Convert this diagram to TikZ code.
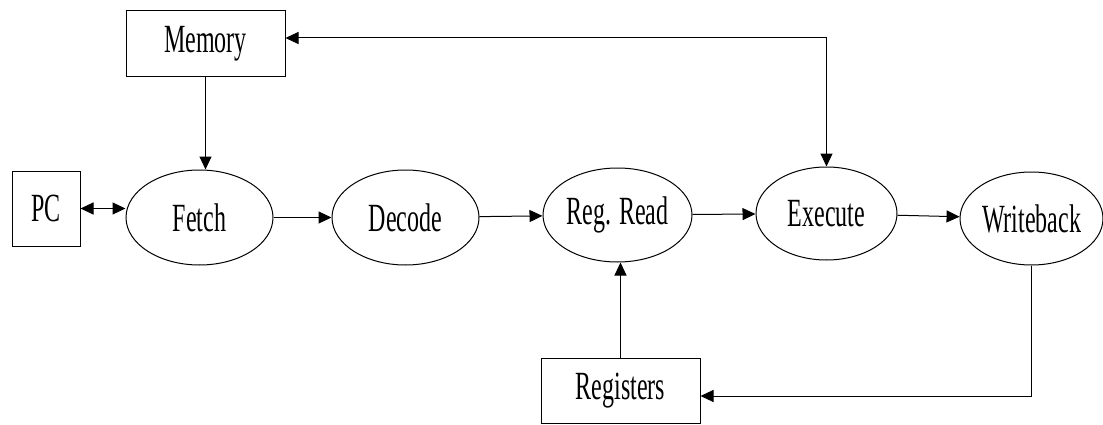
\documentclass[tikz,border=0pt]{standalone}
\usepackage{fontspec}
\setmainfont[FakeStretch=0.6]{Liberation Serif}
\usetikzlibrary{shapes.geometric,arrows.meta}
\begin{document}
\begin{tikzpicture}[x=1pt,y=1pt,
  every node/.style={font=\fontsize{40}{41}\selectfont, inner sep=0pt},
  boxnode/.style={draw, line width=1pt, rectangle},
  stage/.style={draw, line width=1pt, ellipse},
  conn/.style={line width=1pt, -{Triangle[length=13pt,width=12pt]}},
  biconn/.style={line width=1pt, {Triangle[length=13pt,width=12pt]}-{Triangle[length=13pt,width=12pt]}}]
\useasboundingbox (0,0) rectangle (1103,424);
\node[boxnode, minimum width=159pt, minimum height=66pt] (Memory) at (205.5,380) {Memory};
\node[boxnode, minimum width=68pt, minimum height=75pt] (PC) at (46,215.5) {PC};
\node[stage, minimum width=147pt, minimum height=95pt] (Fetch) at (199.5,206.5) {Fetch};
\node[stage, minimum width=147pt, minimum height=95pt] (Decode) at (405.5,206.5) {Decode};
\node[stage, minimum width=149pt, minimum height=94pt] (RegRead) at (617.5,209) {Reg. Read};
\node[stage, minimum width=141pt, minimum height=93pt] (Execute) at (826.5,210.5) {Execute};
\node[stage, minimum width=143pt, minimum height=93pt] (Writeback) at (1031.5,205.5) {Writeback};
\node[boxnode, minimum width=159pt, minimum height=65pt] (Registers) at (620.5,33.5) {Registers};

\draw[biconn] (PC.east) -- (PC.east -| Fetch.west);
\draw[conn] (Memory.south) -- (Memory.south |- Fetch.north);
\draw[conn] (Fetch) -- (Decode);
\draw[conn] (Decode) -- (RegRead);
\draw[conn] (RegRead) -- (Execute);
\draw[conn] (Execute) -- (Writeback);
\draw[biconn] ([yshift=6pt]Memory.east) -| (Execute.north);
\draw[conn] (Registers.north) -- (Registers.north |- RegRead.south);
\draw[conn] (Writeback.south) |- ([yshift=-5.5pt]Registers.east);
\end{tikzpicture}
\end{document}
